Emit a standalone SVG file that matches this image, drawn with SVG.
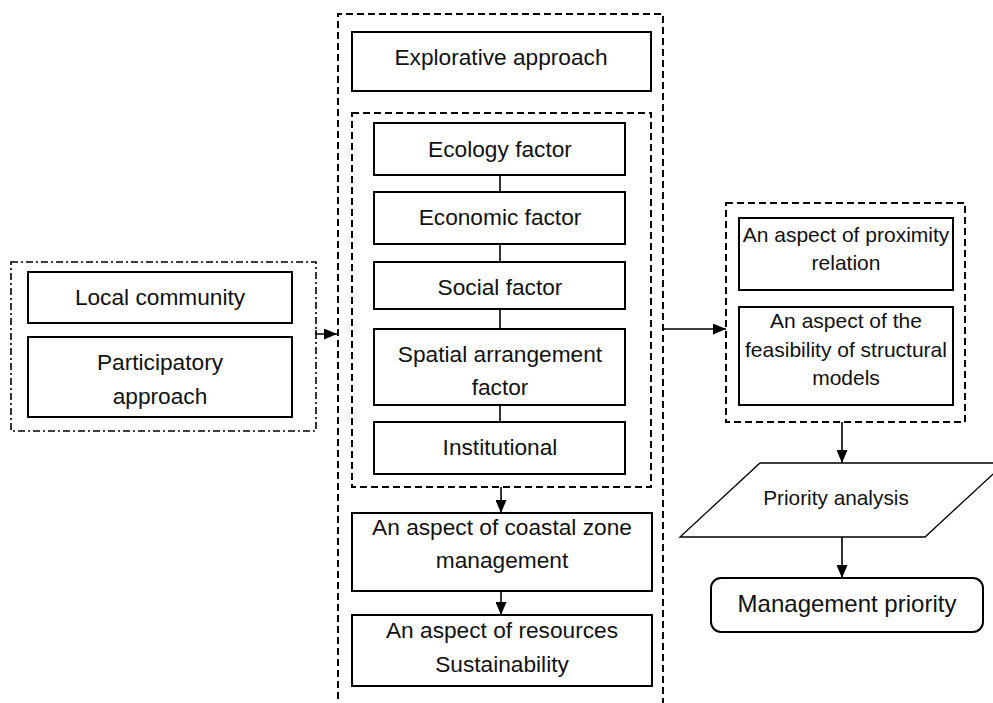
<svg xmlns="http://www.w3.org/2000/svg" width="993" height="703" viewBox="0 0 993 703">
<defs>
<marker id="ah" markerWidth="13" markerHeight="11" refX="13" refY="5.5" orient="auto" markerUnits="userSpaceOnUse">
<path d="M0,0 L13,5.5 L0,11 Z" fill="#000"/>
</marker>
<style>
.box{fill:#fff;stroke:#000;stroke-width:2}
.dash{fill:none;stroke:#000;stroke-width:2;stroke-dasharray:7 4}
.dashdot{fill:none;stroke:#000;stroke-width:1.6;stroke-dasharray:7 3 2 3}
.t{font-family:"Liberation Sans",Arial,sans-serif;font-size:22.7px;fill:#111;text-anchor:middle}
.t21{font-size:21px}
.t20{font-size:20.8px}
.t24{font-size:24px}
.conn{fill:none;stroke:#000;stroke-width:1.6}
</style>
</defs>
<rect width="993" height="703" fill="#fff"/>

<g id="group-left">
<rect class="dashdot" x="11" y="262" width="305" height="169"/>
</g>
<g id="local-community">
<rect class="box" x="28" y="272" width="264" height="51"/>
<text class="t" x="160" y="305">Local community</text>
</g>
<g id="participatory-approach">
<rect class="box" x="28" y="337" width="264" height="80"/>
<text class="t" x="160" y="370">Participatory</text>
<text class="t" x="160" y="404">approach</text>
</g>

<g id="group-main">
<path class="dash" d="M338,710 V14 H663 V710"/>
</g>
<g id="explorative-approach">
<rect class="box" x="352" y="32" width="299" height="59"/>
<text class="t" x="501" y="65">Explorative approach</text>
</g>
<g id="group-factors">
<rect class="dash" x="352" y="113" width="299" height="374"/>
</g>
<g id="ecology-factor">
<rect class="box" x="374" y="123" width="251" height="52"/>
<text class="t" x="500" y="157">Ecology factor</text>
</g>
<g id="economic-factor">
<rect class="box" x="374" y="192" width="251" height="52"/>
<text class="t" x="500" y="225">Economic factor</text>
</g>
<g id="social-factor">
<rect class="box" x="374" y="262" width="251" height="47"/>
<text class="t" x="500" y="295">Social factor</text>
</g>
<g id="spatial-arrangement-factor">
<rect class="box" x="374" y="329" width="251" height="76"/>
<text class="t" x="500" y="362">Spatial arrangement</text>
<text class="t" x="500" y="395">factor</text>
</g>
<g id="institutional">
<rect class="box" x="374" y="422" width="251" height="52"/>
<text class="t" x="500" y="455">Institutional</text>
</g>
<g id="coastal-zone-management">
<rect class="box" x="352" y="513" width="300" height="78"/>
<text class="t" x="502" y="535">An aspect of coastal zone</text>
<text class="t" x="502" y="568">management</text>
</g>
<g id="resources-sustainability">
<rect class="box" x="352" y="615" width="300" height="71"/>
<text class="t" x="502" y="638">An aspect of resources</text>
<text class="t" x="502" y="672">Sustainability</text>
</g>

<g id="group-right">
<rect class="dash" x="726" y="203" width="239" height="219"/>
</g>
<g id="proximity-relation">
<rect class="box" x="739" y="218" width="214" height="72"/>
<text class="t t21" x="846" y="242">An aspect of proximity</text>
<text class="t t21" x="846" y="270">relation</text>
</g>
<g id="feasibility-structural-models">
<rect class="box" x="739" y="307" width="214" height="98"/>
<text class="t t21" x="846" y="328">An aspect of the</text>
<text class="t t21" x="846" y="357">feasibility of structural</text>
<text class="t t21" x="846" y="385">models</text>
</g>
<g id="priority-analysis">
<polygon points="760,463 1005,463 925,537 680,537" fill="#fff" stroke="#000" stroke-width="1.3"/>
<text class="t t20" x="836" y="505">Priority analysis</text>
</g>
<g id="management-priority">
<rect class="box" x="711" y="578" width="272" height="54" rx="10" ry="10" stroke-width="1.5"/>
<text class="t t24" x="847" y="612">Management priority</text>
</g>

<g id="connectors">
<line class="conn" x1="500" y1="175" x2="500" y2="192"/>
<line class="conn" x1="500" y1="244" x2="500" y2="262"/>
<line class="conn" x1="500" y1="309" x2="500" y2="329"/>
<line class="conn" x1="500" y1="405" x2="500" y2="422"/>
<path class="conn" d="M316,330 V334 H337" marker-end="url(#ah)"/>
<line class="conn" x1="501" y1="487" x2="501" y2="513" marker-end="url(#ah)"/>
<line class="conn" x1="501" y1="591" x2="501" y2="615" marker-end="url(#ah)"/>
<line class="conn" x1="664" y1="329" x2="726" y2="329" marker-end="url(#ah)"/>
<line class="conn" x1="842" y1="422" x2="842" y2="463" marker-end="url(#ah)"/>
<line class="conn" x1="842" y1="537" x2="842" y2="578" marker-end="url(#ah)"/>
</g>
</svg>
